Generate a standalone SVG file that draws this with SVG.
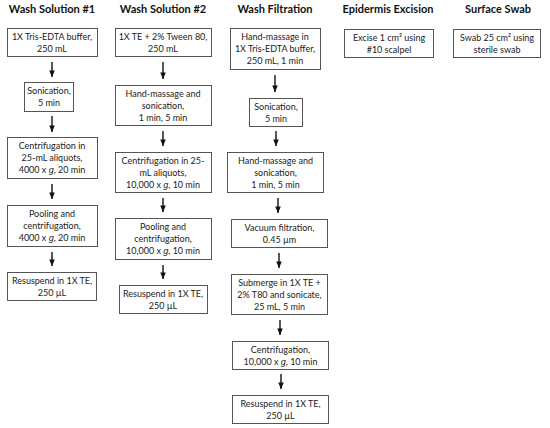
<svg xmlns="http://www.w3.org/2000/svg" width="550" height="428" viewBox="0 0 550 428">
<defs>
<marker id="ah" markerUnits="userSpaceOnUse" markerWidth="8" markerHeight="8" viewBox="0 0 8 8" refX="7" refY="4" orient="auto">
<path d="M0.5,1.2 L7,4 L0.5,6.8 Z" fill="#111"/>
</marker>
<style>
.h{font-family:Lato,"Liberation Sans",sans-serif;font-weight:bold;font-size:11px;fill:#111;text-anchor:middle}
.t{font-family:Lato,"Liberation Sans",sans-serif;font-size:9px;fill:#222;text-anchor:middle}
.b{fill:#fff;stroke:#555;stroke-width:1}
.i{font-family:"Liberation Sans",sans-serif;font-style:italic}
.c line{stroke:#111;stroke-width:1.4;marker-end:url(#ah)}
</style>
</defs>
<rect width="550" height="428" fill="#fff"/>
<g id="headers">
<text class="h" x="52" y="13">Wash Solution #1</text>
<text class="h" x="163" y="13">Wash Solution #2</text>
<text class="h" x="275" y="13">Wash Filtration</text>
<text class="h" x="388" y="13">Epidermis Excision</text>
<text class="h" x="498" y="13">Surface Swab</text>
</g>
<g id="ws1-1"><rect class="b" x="7.5" y="28.5" width="90" height="28"/><text class="t" x="52" y="39.7">1X Tris-EDTA buffer,</text><text class="t" x="52" y="51.7">250 mL</text></g>
<g id="ws1-2"><rect class="b" x="24.5" y="82.5" width="49" height="29"/><text class="t" x="49" y="94.2">Sonication,</text><text class="t" x="49" y="106.2">5 min</text></g>
<g id="ws1-3"><rect class="b" x="7.5" y="137.5" width="90" height="41"/><text class="t" x="52" y="149.2">Centrifugation in</text><text class="t" x="52" y="161.2">25-mL aliquots,</text><text class="t" x="52" y="173.2">4000 x <tspan class="i">g</tspan>, 20 min</text></g>
<g id="ws1-4"><rect class="b" x="7.5" y="205.5" width="90" height="41"/><text class="t" x="52" y="217.2">Pooling and</text><text class="t" x="52" y="229.2">centrifugation,</text><text class="t" x="52" y="241.2">4000 x <tspan class="i">g</tspan>, 20 min</text></g>
<g id="ws1-5"><rect class="b" x="7.5" y="272.5" width="89" height="28"/><text class="t" x="52" y="283.7">Resuspend in 1X TE,</text><text class="t" x="52" y="295.7">250 µL</text></g>

<g id="ws2-1"><rect class="b" x="115.5" y="28.5" width="96" height="28"/><text class="t" x="163" y="39.7">1X TE + 2% Tween 80,</text><text class="t" x="163" y="51.7">250 mL</text></g>
<g id="ws2-2"><rect class="b" x="115.5" y="85.5" width="96" height="40"/><text class="t" x="163" y="96.7">Hand-massage and</text><text class="t" x="163" y="108.7">sonication,</text><text class="t" x="163" y="120.7">1 min, 5 min</text></g>
<g id="ws2-3"><rect class="b" x="115.5" y="152.5" width="96" height="40"/><text class="t" x="163" y="163.7">Centrifugation in 25-</text><text class="t" x="163" y="175.7">mL aliquots,</text><text class="t" x="163" y="187.7">10,000 x <tspan class="i">g</tspan>, 10 min</text></g>
<g id="ws2-4"><rect class="b" x="115.5" y="218.5" width="96" height="41"/><text class="t" x="163" y="230.2">Pooling and</text><text class="t" x="163" y="242.2">centrifugation,</text><text class="t" x="163" y="254.2">10,000 x <tspan class="i">g</tspan>, 10 min</text></g>
<g id="ws2-5"><rect class="b" x="119.5" y="285.5" width="88" height="28"/><text class="t" x="163" y="296.7">Resuspend in 1X TE,</text><text class="t" x="163" y="308.7">250 µL</text></g>

<g id="wf-1"><rect class="b" x="230.5" y="28.5" width="90" height="41"/><text class="t" x="275" y="40.2">Hand-massage in</text><text class="t" x="275" y="52.2">1X Tris-EDTA buffer,</text><text class="t" x="275" y="64.2">250 mL, 1 min</text></g>
<g id="wf-2"><rect class="b" x="249.5" y="98.5" width="53" height="28"/><text class="t" x="276" y="109.7">Sonication,</text><text class="t" x="276" y="121.7">5 min</text></g>
<g id="wf-3"><rect class="b" x="227.5" y="152.5" width="96" height="40"/><text class="t" x="275.5" y="163.7">Hand-massage and</text><text class="t" x="275.5" y="175.7">sonication,</text><text class="t" x="275.5" y="187.7">1 min, 5 min</text></g>
<g id="wf-4"><rect class="b" x="231.5" y="219.5" width="96" height="28"/><text class="t" x="279.5" y="230.7">Vacuum filtration,</text><text class="t" x="279.5" y="242.7">0.45 µm</text></g>
<g id="wf-5"><rect class="b" x="231.5" y="274.5" width="96" height="40"/><text class="t" x="279.5" y="285.7">Submerge in 1X TE +</text><text class="t" x="279.5" y="297.7">2% T80 and sonicate,</text><text class="t" x="279.5" y="309.7">25 mL, 5 min</text></g>
<g id="wf-6"><rect class="b" x="232.5" y="341.5" width="96" height="28"/><text class="t" x="280.5" y="352.7">Centrifugation,</text><text class="t" x="280.5" y="364.7">10,000 x <tspan class="i">g</tspan>, 10 min</text></g>
<g id="wf-7"><rect class="b" x="232.5" y="395.5" width="96" height="28"/><text class="t" x="280.5" y="406.7">Resuspend in 1X TE,</text><text class="t" x="280.5" y="418.7">250 µL</text></g>

<g id="ee-1"><rect class="b" x="344.5" y="29.5" width="89" height="28"/><text class="t" x="389" y="40.7">Excise 1 cm² using</text><text class="t" x="389" y="52.7">#10 scalpel</text></g>
<g id="ss-1"><rect class="b" x="453.5" y="29.5" width="87" height="28"/><text class="t" x="497" y="40.7">Swab 25 cm² using</text><text class="t" x="497" y="52.7">sterile swab</text></g>

<g id="connectors" class="c">
<line x1="52" y1="62" x2="52" y2="77"/>
<line x1="52" y1="116" x2="52" y2="132"/>
<line x1="52" y1="184" x2="52" y2="199"/>
<line x1="52" y1="252" x2="52" y2="266"/>
<line x1="163" y1="62" x2="163" y2="79"/>
<line x1="163" y1="131" x2="163" y2="146"/>
<line x1="163" y1="198" x2="163" y2="212"/>
<line x1="163" y1="265" x2="163" y2="279"/>
<line x1="275" y1="75" x2="275" y2="92"/>
<line x1="276" y1="131" x2="276" y2="146"/>
<line x1="278" y1="198" x2="278" y2="213"/>
<line x1="279" y1="253" x2="279" y2="268"/>
<line x1="280" y1="320" x2="280" y2="335"/>
<line x1="281" y1="374" x2="281" y2="389"/>
</g>
</svg>
